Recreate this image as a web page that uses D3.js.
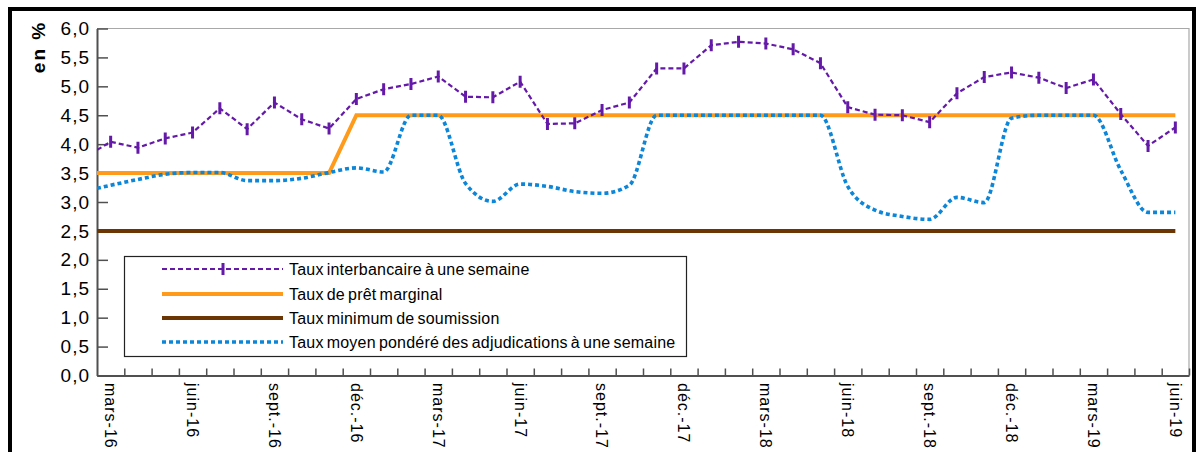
<!DOCTYPE html>
<html>
<head>
<meta charset="utf-8">
<script src="https://cdn.jsdelivr.net/npm/d3@7/dist/d3.min.js"></script>
<style>
  html, body { margin: 0; padding: 0; background: #fff; }
  svg { display: block; font-family: "Liberation Sans", Arial, sans-serif; }
</style>
</head>
<body>
<svg id="chart" width="1196" height="452"></svg>
<script>
// Month labels; the first month sits just outside the plotted window and is clipped.
const months = [
  "févr.-16", "mars-16", "avr.-16", "mai-16", "juin-16", "juil.-16", "août-16", "sept.-16", "oct.-16", "nov.-16", "déc.-16",
  "janv.-17", "févr.-17", "mars-17", "avr.-17", "mai-17", "juin-17", "juil.-17", "août-17", "sept.-17", "oct.-17", "nov.-17", "déc.-17",
  "janv.-18", "févr.-18", "mars-18", "avr.-18", "mai-18", "juin-18", "juil.-18", "août-18", "sept.-18", "oct.-18", "nov.-18", "déc.-18",
  "janv.-19", "févr.-19", "mars-19", "avr.-19", "mai-19", "juin-19"
];
// Month labels written under the axis
const labelledMonths = ["mars-16", "juin-16", "sept.-16", "déc.-16", "mars-17", "juin-17", "sept.-17", "déc.-17",
  "mars-18", "juin-18", "sept.-18", "déc.-18", "mars-19", "juin-19"];

// Rates, in %
const interbankRate = [3.76, 4.04, 3.94, 4.10, 4.20, 4.62, 4.26, 4.72, 4.43, 4.27, 4.78, 4.95, 5.04, 5.17, 4.82, 4.81,
  5.08, 4.35, 4.36, 4.59, 4.72, 5.31, 5.31, 5.71, 5.77, 5.74, 5.64, 5.40, 4.64, 4.51, 4.50, 4.38, 4.88, 5.16, 5.24,
  5.15, 4.97, 5.12, 4.52, 3.97, 4.29];
const marginalLendingRate = [3.5, 3.5, 3.5, 3.5, 3.5, 3.5, 3.5, 3.5, 3.5, 3.5, 4.5, 4.5, 4.5, 4.5, 4.5, 4.5, 4.5, 4.5,
  4.5, 4.5, 4.5, 4.5, 4.5, 4.5, 4.5, 4.5, 4.5, 4.5, 4.5, 4.5, 4.5, 4.5, 4.5, 4.5, 4.5, 4.5, 4.5, 4.5, 4.5, 4.5, 4.5];
const minimumBidRate = [2.5, 2.5, 2.5, 2.5, 2.5, 2.5, 2.5, 2.5, 2.5, 2.5, 2.5, 2.5, 2.5, 2.5, 2.5, 2.5, 2.5, 2.5, 2.5,
  2.5, 2.5, 2.5, 2.5, 2.5, 2.5, 2.5, 2.5, 2.5, 2.5, 2.5, 2.5, 2.5, 2.5, 2.5, 2.5, 2.5, 2.5, 2.5, 2.5, 2.5, 2.5];
const weightedAuctionRate = [3.18, 3.29, 3.39, 3.48, 3.51, 3.51, 3.37, 3.37, 3.41, 3.51, 3.59, 3.52, 4.50, 4.50, 3.32,
  3.01, 3.31, 3.27, 3.18, 3.15, 3.29, 4.50, 4.50, 4.50, 4.50, 4.50, 4.50, 4.50, 3.27, 2.86, 2.75, 2.70, 3.08, 2.99,
  4.45, 4.50, 4.50, 4.50, 3.55, 2.82, 2.82];

const yTicks = [0, 0.5, 1, 1.5, 2, 2.5, 3, 3.5, 4, 4.5, 5, 5.5, 6];
const legendLabels = [
  "Taux interbancaire à une semaine",
  "Taux de prêt marginal",
  "Taux minimum de soumission",
  "Taux moyen pondéré des adjudications à une semaine"
];

const colors = { interbank: "#6419a8", marginal: "#ff9a1a", minimum: "#6b3504", auction: "#0b86d8" };

const svg = d3.select("#chart");
const plotLeft = 97, plotRight = 1189, plotTop = 28.5, plotBottom = 375.5;

const x = d3.scaleLinear().domain([0.5, months.length - 0.5]).range([plotLeft, plotRight]);
const y = d3.scaleLinear().domain([0, 6]).range([plotBottom, plotTop]);
const fr = d3.formatLocale({ decimal: ",", thousands: " ", grouping: [3], currency: ["", " €"] }).format(".1f");

// outer frame
svg.append("rect").attr("x", 10).attr("y", 9).attr("width", 1184).attr("height", 470)
  .attr("fill", "none").attr("stroke", "#000").attr("stroke-width", 4);

// plot area border (top and right)
svg.append("path")
  .attr("d", `M${plotLeft},${plotTop}H${plotRight}V${plotBottom}`)
  .attr("fill", "none").attr("stroke", "#a8a8a8").attr("stroke-width", 1.2);

// y axis
const yAxis = svg.append("g").attr("transform", `translate(${plotLeft},0)`)
  .call(d3.axisLeft(y).tickValues(yTicks).tickFormat(fr).tickSize(-11).tickSizeOuter(0).tickPadding(7));
yAxis.select(".domain").attr("stroke", "#505050").attr("stroke-width", 2);
yAxis.selectAll(".tick line").attr("stroke", "#505050").attr("stroke-width", 1.5);
yAxis.selectAll(".tick text").attr("fill", "#000").attr("font-size", 19).attr("letter-spacing", 1)
  .attr("font-family", "'Liberation Sans', Arial, sans-serif");

// x axis: ticks between months
const boundaries = d3.range(1, months.length).map(i => i + 0.5);
const xAxis = svg.append("g").attr("transform", `translate(0,${plotBottom})`)
  .call(d3.axisBottom(x).tickValues(boundaries).tickFormat("").tickSize(-7).tickSizeOuter(0));
xAxis.select(".domain").attr("stroke", "#505050").attr("stroke-width", 2);
xAxis.selectAll(".tick line").attr("stroke", "#505050").attr("stroke-width", 1.5);

// month labels, reading downward
svg.append("g").selectAll("text")
  .data(labelledMonths)
  .join("text")
  .attr("transform", d => `translate(${x(months.indexOf(d))},383) rotate(90)`)
  .attr("dy", "0.35em")
  .attr("font-size", 16)
  .attr("letter-spacing", 1)
  .attr("fill", "#000")
  .text(d => d);

// y axis title
svg.append("text")
  .attr("transform", "translate(38,47) rotate(-90)")
  .attr("text-anchor", "middle").attr("dy", "0.35em")
  .attr("font-size", 19).attr("font-weight", "bold").attr("letter-spacing", 2)
  .text("en %");

// series
svg.append("clipPath").attr("id", "plotClip")
  .append("rect").attr("x", plotLeft).attr("y", plotTop - 5).attr("width", plotRight - plotLeft)
  .attr("height", plotBottom - plotTop + 5);
const plot = svg.append("g").attr("clip-path", "url(#plotClip)");

const linear = d3.line().x((d, i) => x(i)).y(d => y(d));
const smooth = d3.line().x((d, i) => x(i)).y(d => y(d)).curve(d3.curveMonotoneX);

plot.append("path").datum(marginalLendingRate).attr("d", linear)
  .attr("fill", "none").attr("stroke", colors.marginal).attr("stroke-width", 4);
plot.append("path").datum(minimumBidRate).attr("d", linear)
  .attr("fill", "none").attr("stroke", colors.minimum).attr("stroke-width", 4);
plot.append("path").datum(weightedAuctionRate).attr("d", smooth)
  .attr("fill", "none").attr("stroke", colors.auction).attr("stroke-width", 3.6)
  .attr("stroke-dasharray", "4,3");
plot.append("path").datum(interbankRate).attr("d", linear)
  .attr("fill", "none").attr("stroke", colors.interbank).attr("stroke-width", 2.2)
  .attr("stroke-dasharray", "5,3");
plot.append("g").selectAll("line")
  .data(interbankRate.map((v, i) => ({ v, i })).filter(d => d.i > 0))
  .join("line")
  .attr("x1", d => x(d.i)).attr("x2", d => x(d.i))
  .attr("y1", d => y(d.v) - 6).attr("y2", d => y(d.v) + 6)
  .attr("stroke", colors.interbank).attr("stroke-width", 3);

// legend
const lg = svg.append("g");
lg.append("rect").attr("x", 124.5).attr("y", 256.5).attr("width", 562).attr("height", 100)
  .attr("fill", "#fff").attr("stroke", "#222").attr("stroke-width", 1.2);
const rowsY = [269, 294, 318, 342];
const styles = [
  { c: colors.interbank, w: 2.2, dash: "5,3" },
  { c: colors.marginal, w: 4, dash: null },
  { c: colors.minimum, w: 4, dash: null },
  { c: colors.auction, w: 3.6, dash: "4,3" }
];
legendLabels.forEach((t, i) => {
  const ly = rowsY[i];
  lg.append("line").attr("x1", 162).attr("x2", 283).attr("y1", ly).attr("y2", ly)
    .attr("stroke", styles[i].c).attr("stroke-width", styles[i].w)
    .attr("stroke-dasharray", styles[i].dash);
  if (i === 0) {
    lg.append("line").attr("x1", 223).attr("x2", 223).attr("y1", ly - 6).attr("y2", ly + 6)
      .attr("stroke", styles[i].c).attr("stroke-width", 3);
  }
  lg.append("text").attr("x", 289).attr("y", ly).attr("dy", "0.35em")
    .attr("font-size", 16).attr("word-spacing", -1.5).attr("letter-spacing", 0.2)
    .attr("fill", "#000").text(t);
});
</script>
</body>
</html>
